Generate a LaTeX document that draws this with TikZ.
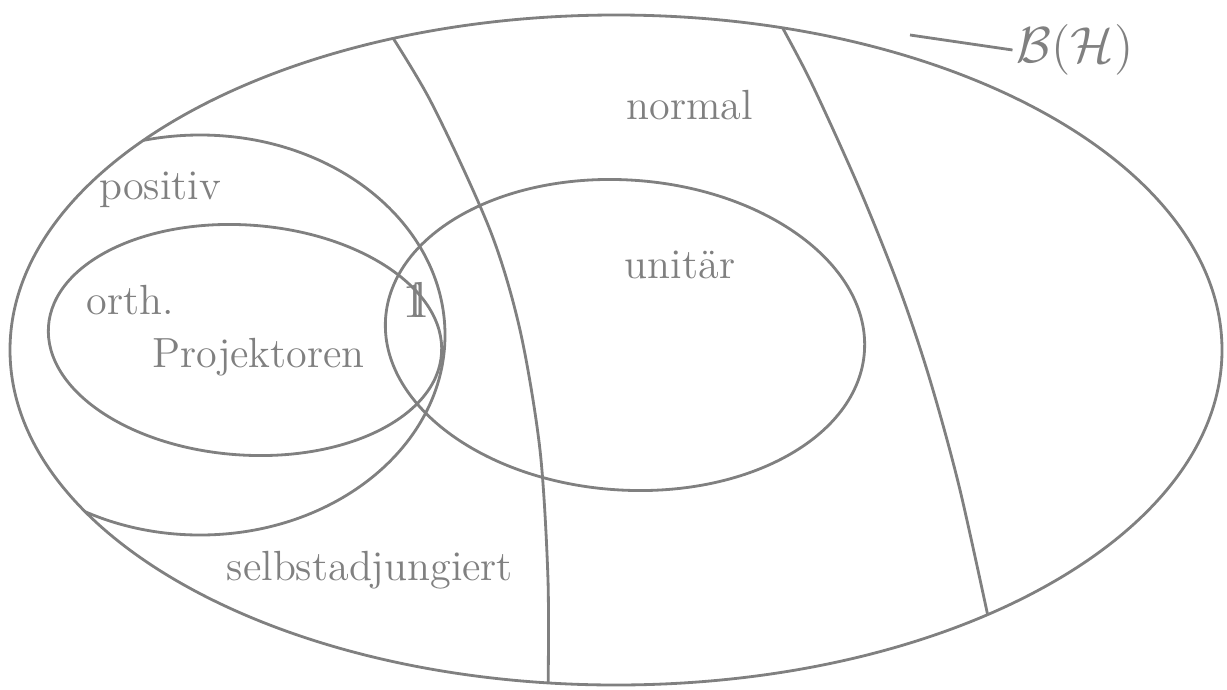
\documentclass[tikz,border=0pt]{standalone}
\usepackage{amsmath,amssymb}
\usepackage{tikz}
\usetikzlibrary{positioning}

\definecolor{pen}{RGB}{128,128,128}
\newcommand{\idop}{\mathrm{1}\kern-0.28em\mathrm{l}}
\tikzset{
  region/.style={draw=pen, line width=0.8pt},
  lbl/.style={text=pen, font=\large, inner sep=1pt}
}

\begin{document}
\begin{tikzpicture}
                \useasboundingbox (0,0) rectangle (12.27,6.89);
                % B(H)
                \draw[region] (6.16,3.39) ellipse [x radius=6.06, y radius=3.35];
                \begin{scope}
                    \clip (6.16,3.39) ellipse [x radius=6.06, y radius=3.35];
                    \draw[region] (2.0,3.54) ellipse [x radius=2.45, y radius=2.0];
                    % normal / selbstadjungiert borders
                    \draw[region] plot[smooth] coordinates {(3.75,6.79) (4.30,5.89) (4.90,4.59) (5.20,3.59) (5.40,2.39) (5.48,1.09) (5.48,-0.1)};
                    \draw[region] plot[smooth] coordinates {(7.70,6.84) (8.10,6.09) (8.60,4.99) (9.00,3.99) (9.30,3.09) (9.60,1.99) (9.95,0.4)};
                \end{scope}
                \draw[region, rotate around={-4:(2.45,3.49)}] (2.45,3.49) ellipse [x radius=1.97, y radius=1.15];
                \draw[region, rotate around={-4:(6.25,3.54)}] (6.25,3.54) ellipse [x radius=2.40, y radius=1.55];
                % labels
                \node[lbl, font=\Large] (bh) at (10.75,6.39) {$\mathcal{B}(\mathcal{H})$};
                \coordinate (bhtip) at (9.1,6.54);
                \draw[region] (bh.west) -- (bhtip);
                \node[lbl] (norm) at (6.9,5.84) {normal};
                \node[lbl] (pos) at (1.6,4.99) {positiv};
                \node[lbl] (orth) at (1.3,3.89) {orth.};
                \node[lbl, below right=0.15 and -0.3 of orth] (proj) {Projektoren};
                \node[lbl, font=\Large] (one) at (4.15,3.89) {$\idop$};
                \node[lbl] (unit) at (6.8,4.24) {unit\"ar};
                \node[lbl] (sa) at (3.7,1.19) {selbstadjungiert};
            \end{tikzpicture}
\end{document}
